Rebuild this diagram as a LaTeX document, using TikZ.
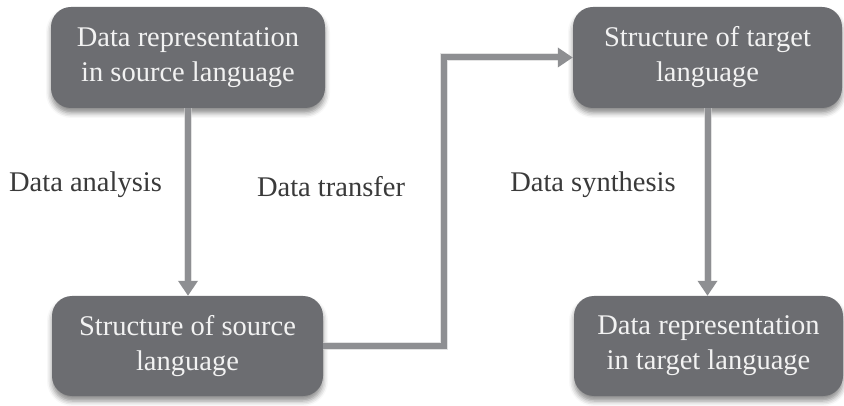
\documentclass[tikz,border=0pt]{standalone}
\usepackage{fontspec}
\setmainfont{Liberation Serif}
\usetikzlibrary{arrows.meta,shadows.blur}
\definecolor{boxfill}{HTML}{6C6D71}
\definecolor{boxtext}{HTML}{F2F2F2}
\definecolor{arrowgray}{HTML}{8E8F92}
\definecolor{labelgray}{HTML}{3A3A3A}
\tikzset{
  stagebox/.style={rectangle, rounded corners=20pt, fill=boxfill, text=boxtext,
    align=center, inner sep=0pt,
    font=\fontsize{28.5}{35}\selectfont,
    blur shadow={shadow xshift=0pt, shadow yshift=-5pt, shadow blur radius=5pt, shadow opacity=45}},
  flow/.style={draw=arrowgray, line width=6pt,
    -{Triangle[width=19pt,length=15pt]}},
  flowshade/.style={draw=black!18, line width=8pt, opacity=0.6},
  steplabel/.style={text=labelgray, font=\fontsize{28.5}{35}\selectfont},
}
\begin{document}
\begin{tikzpicture}[x=1pt,y=-1pt]
\useasboundingbox (0,0) rectangle (844,406);

% process stages
\node[stagebox, minimum width=274pt, minimum height=101pt] (tl) at (188,57.5)
  {Data representation\\in source language};
\node[stagebox, minimum width=271pt, minimum height=100pt] (bl) at (187.5,346)
  {Structure of source\\language};
\node[stagebox, minimum width=269pt, minimum height=101pt] (tr) at (707.5,57.5)
  {Structure of target\\language};
\node[stagebox, minimum width=269pt, minimum height=100pt] (br) at (708.5,346)
  {Data representation\\in target language};

\coordinate (turn) at (444,200);

% soft shade under the connectors
\begin{scope}[yshift=-4pt]
  \draw[flowshade] (tl.south) -- ([yshift=10pt]tl.south |- bl.north);
  \draw[flowshade] (bl.east) -- (bl.east -| turn) |- ([xshift=-10pt]tr.west);
  \draw[flowshade] (tr.south) -- ([yshift=10pt]tr.south |- br.north);
\end{scope}

% connectors
\draw[flow] (tl.south) -- (tl.south |- bl.north);
\draw[flow] (bl.east) -- (bl.east -| turn) |- (tr.west);
\draw[flow] (tr.south) -- (tr.south |- br.north);

% step labels
\node[steplabel] (la) at (85.5,185) {Data analysis};
\node[steplabel] (lt) at (331,187) {Data transfer};
\node[steplabel] (ls) at (593,185) {Data synthesis};
\end{tikzpicture}
\end{document}
